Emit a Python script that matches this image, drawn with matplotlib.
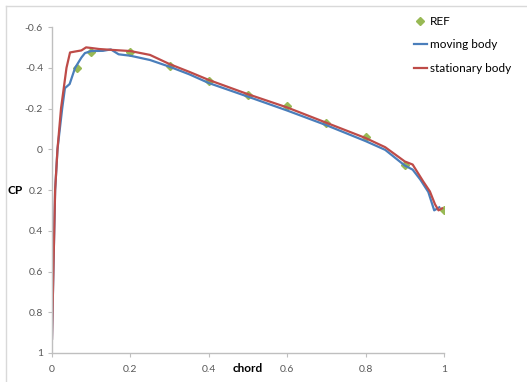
import matplotlib
matplotlib.use("Agg")
import matplotlib.pyplot as plt
from matplotlib.lines import Line2D

# reference points
ref_x = [0.0625, 0.1, 0.2, 0.3, 0.4, 0.5, 0.6, 0.7, 0.8, 0.9, 1.0]
ref_cp = [-0.40, -0.476, -0.476, -0.41, -0.335, -0.267, -0.214, -0.131, -0.062, 0.076, 0.297]

# moving body
mov_x = [0, 0.004, 0.008, 0.014, 0.026, 0.033, 0.045, 0.059, 0.075, 0.084, 0.1, 0.13,
         0.15, 0.17, 0.2, 0.25, 0.3, 0.35, 0.4, 0.5, 0.6, 0.7, 0.8, 0.85, 0.9, 0.92,
         0.94, 0.96, 0.97, 0.975, 0.988]
mov_cp = [0.93, 0.55, 0.2, 0.0, -0.2, -0.3, -0.32, -0.4, -0.45, -0.472, -0.482, -0.483,
          -0.49, -0.466, -0.459, -0.438, -0.405, -0.368, -0.325, -0.258, -0.19, -0.118,
          -0.04, 0.003, 0.08, 0.10, 0.15, 0.21, 0.27, 0.30, 0.285]

# stationary body
sta_x = [0, 0.004, 0.008, 0.014, 0.023, 0.030, 0.037, 0.046, 0.06, 0.075, 0.087, 0.1,
         0.12, 0.15, 0.2, 0.25, 0.3, 0.35, 0.4, 0.5, 0.6, 0.7, 0.8, 0.85, 0.9, 0.92,
         0.947, 0.964, 0.977, 0.986, 0.995]
sta_cp = [0.93, 0.55, 0.2, 0.0, -0.2, -0.3, -0.4, -0.475, -0.48, -0.485, -0.5, -0.497,
          -0.492, -0.488, -0.482, -0.463, -0.418, -0.38, -0.34, -0.27, -0.205, -0.13,
          -0.055, -0.01, 0.06, 0.075, 0.158, 0.207, 0.27, 0.30, 0.29]

xticks = [0, 0.2, 0.4, 0.6, 0.8, 1.0]
xlabels = ["0", "0.2", "0.4", "0.6", "0.8", "1"]
yticks = [-0.6, -0.4, -0.2, 0, 0.2, 0.4, 0.6, 0.8, 1.0]
ylabels = ["-0.6", "-0.4", "-0.2", "0", "0.2", "0.4", "0.6", "0.8", "1"]

plt.rcParams['font.family'] = ['Lato', 'DejaVu Sans']

fig = plt.figure(figsize=(5.27, 3.82), dpi=100)
ax = fig.add_axes([52/527, 29/382, 392/527, 326/382])

ax.plot(ref_x, ref_cp, linestyle='none', marker='D', ms=4.5, color='#98B954',
        label='REF', zorder=1.5)
ax.plot(mov_x, mov_cp, color='#4A7EBB', lw=1.6, label='moving body')
ax.plot(sta_x, sta_cp, color='#BE4B48', lw=1.6, label='stationary body')

ax.set_xlim(0, 1)
ax.set_ylim(1, -0.6)
ax.set_xticks(xticks)
ax.set_xticklabels(xlabels)
ax.set_yticks(yticks)
ax.set_yticklabels(ylabels)
ax.tick_params(labelsize=7.5, labelcolor='#595959', color='#bfbfbf', length=3, width=0.8)
ax.tick_params(axis='x', pad=6)

for s in ['top', 'right']:
    ax.spines[s].set_visible(False)
for s in ['left', 'bottom']:
    ax.spines[s].set_color('#bfbfbf')
    ax.spines[s].set_linewidth(1)

fig.text(8/527, 1 - 190/382, 'CP', fontsize=8.5, fontweight='bold', va='center', ha='left')
fig.text(248/527, 1 - 368/382, 'chord', fontsize=8.5, fontweight='bold', va='center', ha='center')

fig.legend(loc='upper left', bbox_to_anchor=(414/527, 1 - 16/382), frameon=False,
           fontsize=8.5, handlelength=1.1, handletextpad=0.25, labelspacing=1.05,
           borderaxespad=0, borderpad=0)

# chart border
fig.add_artist(Line2D([6/527, 6/527], [0, 1 - 6/382], color='#d9d9d9', lw=1))
fig.add_artist(Line2D([6/527, 1], [1 - 6/382, 1 - 6/382], color='#d9d9d9', lw=1))

fig.savefig('out.png', dpi=100)
